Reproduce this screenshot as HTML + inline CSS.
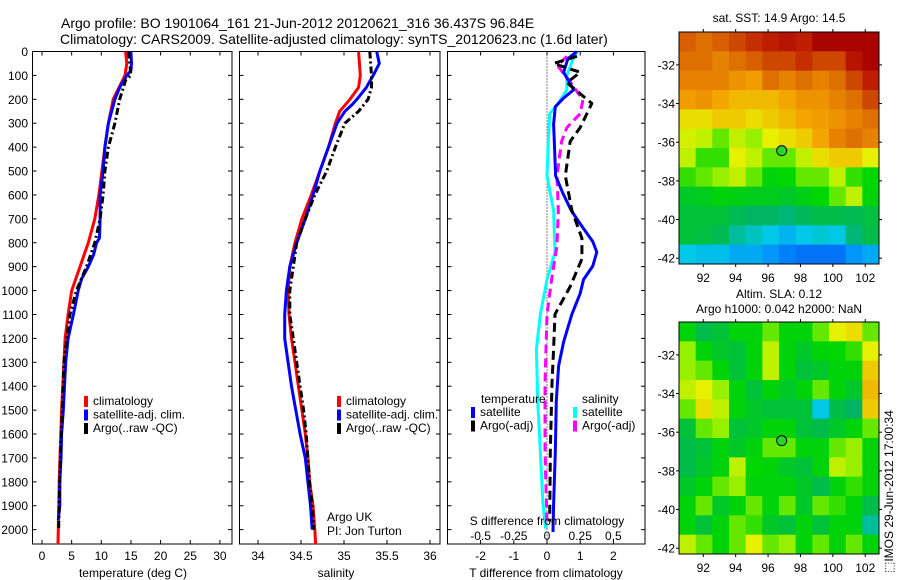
<!DOCTYPE html>
<html><head><meta charset="utf-8"><style>
html,body{margin:0;padding:0;background:#fff;}
svg{display:block;font-family:"Liberation Sans",Arial,sans-serif;}
text{fill:#000;}
</style></head><body>
<svg id="fig" width="900" height="580" viewBox="0 0 900 580" xmlns="http://www.w3.org/2000/svg">
<rect x="0" y="0" width="900" height="580" fill="#fff"/>
<text x="61" y="28" font-size="14">Argo profile: BO 1901064_161 21-Jun-2012 20120621_316 36.437S 96.84E</text>
<text x="60" y="44" font-size="14">Climatology: CARS2009. Satellite-adjusted climatology: synTS_20120623.nc (1.6d later)</text>
<g id="g1"></g>
<g id="g2"></g>
<g id="g3"></g>
<g id="m1"></g>
<g id="m2"></g>
<text x="0" y="0" font-size="12" transform="translate(893,573) rotate(-90)">⬚IMOS 29-Jun-2012 17:00:34</text>
</svg>
<script>
// ---- data ----
const tClimDepth=[0,50,100,200,300,400,500,600,700,800,900,1000,1100,1200,1500,1800,2000,2060];
const tClim=[14.1,14.3,14.0,12.0,11.2,10.6,10.1,9.6,8.9,7.8,6.4,5.0,4.4,3.9,3.3,2.9,2.75,2.7];
const tSatDepth=[0,50,80,100,150,200,300,400,500,600,700,780,800,850,900,950,1000,1100,1200,1300,1400,1500,1600,1700,1800,1900,1960];
const tSat=[15.0,15.1,15.0,14.3,13.1,12.3,11.2,10.6,10.3,9.8,9.8,9.7,9.2,8.7,7.8,6.7,6.1,5.3,4.4,4.0,3.8,3.6,3.3,3.2,3.0,3.0,2.75];
const tArgoDepth=[0,100,120,200,300,400,500,600,700,800,900,1000,1100,1200,1300,1500,1700,1900,2000];
const tArgo=[14.6,15.0,14.1,13.1,12.3,11.2,10.6,10.3,9.8,8.9,7.5,5.8,4.7,4.2,3.7,3.4,3.1,2.9,2.8];
const sClimDepth=[0,100,150,200,250,300,400,500,600,700,800,900,1000,1100,1200,1300,1400,1500,1600,1700,1800,1900,2000,2060];
const sClim=[35.17,35.19,35.17,35.07,34.95,34.9,34.82,34.72,34.62,34.51,34.43,34.37,34.35,34.36,34.39,34.43,34.47,34.51,34.55,34.58,34.6,34.64,34.66,34.67];
const sSatDepth=[0,50,100,150,200,220,250,300,400,500,600,700,800,900,1000,1100,1200,1300,1400,1500,1600,1700,1800,1900,2000];
const sSat=[35.38,35.41,35.34,35.26,35.15,35.1,35.01,34.92,34.82,34.72,34.64,34.55,34.45,34.37,34.33,34.31,34.31,34.35,34.39,34.44,34.49,34.55,34.58,34.61,34.63];
const sArgoDepth=[0,100,150,200,250,300,400,500,600,700,800,900,1000,1100,1200,1300,1400,1500,1600,1700,1800,1900,2000];
const sArgo=[35.30,35.32,35.32,35.28,35.17,35.01,34.9,34.8,34.66,34.55,34.45,34.41,34.37,34.37,34.41,34.45,34.49,34.53,34.56,34.58,34.6,34.63,34.65];
const dTSatDepth=[0,30,87,160,195,231,304,376,520,593,665,737,795,839,897,954,1012,1099,1215,1316,1460,1677,1894,2010];
const dTSat=[0.9,0.63,0.5,0.8,0.5,0.25,0.2,0.22,0.26,0.48,0.73,1.08,1.38,1.5,1.38,1.1,1.0,0.75,0.5,0.35,0.28,0.25,0.2,0.18];
const dTArgoDepth=[20,50,87,130,217,275,318,376,520,665,781,868,983,1099,1244,1388,1677,1966];
const dTArgo=[0.9,0.2,1.0,0.6,1.35,1.15,1.0,0.7,0.55,0.75,1.05,1.05,0.7,0.24,0.2,0.15,0.1,0.08];
const dSSatDepth=[0,40,100,160,217,260,376,520,665,839,954,1099,1244,1460,1677,1894,1995];
const dSSat=[0.225,0.19,0.15,0.15,0.085,0.02,0.01,0.0,0.05,0.06,0.0,-0.05,-0.08,-0.07,-0.05,-0.03,-0.01];
const dSArgoDepth=[20,60,116,202,260,318,376,520,665,810,954,1099,1388,1677,1966];
const dSArgo=[0.15,0.08,0.16,0.27,0.25,0.15,0.11,0.075,0.085,0.075,0.035,0.0,-0.015,-0.015,0.0];
const depthTicks=[0,100,200,300,400,500,600,700,800,900,1000,1100,1200,1300,1400,1500,1600,1700,1800,1900,2000];
const tTicks=[0,5,10,15,20,25,30];
const sTicks=[34,34.5,35,35.5,36];
const sTickLabels=['34','34.5','35','35.5','36'];
const dTTicks=[-2,-1,0,1,2];
const dSTicks=[-0.5,-0.25,0,0.25,0.5];
const lonTicks=[92,94,96,98,100,102];
const latTicks=[-32,-34,-36,-38,-40,-42];
const argoLon=96.84, argoLat=-36.437;
const sstGrid=[
[0.82,0.8,0.82,0.85,0.88,0.9,0.92,0.9,0.95,0.95,0.95,0.95],
[0.8,0.8,0.78,0.8,0.82,0.85,0.85,0.88,0.85,0.85,0.92,0.95],
[0.78,0.78,0.78,0.76,0.75,0.8,0.78,0.8,0.78,0.8,0.85,0.9],
[0.75,0.76,0.74,0.72,0.72,0.72,0.74,0.76,0.76,0.78,0.8,0.85],
[0.68,0.68,0.7,0.7,0.68,0.7,0.72,0.74,0.75,0.76,0.78,0.8],
[0.65,0.64,0.6,0.64,0.62,0.66,0.68,0.7,0.74,0.78,0.8,0.78],
[0.64,0.58,0.58,0.66,0.64,0.6,0.6,0.64,0.68,0.7,0.7,0.66],
[0.58,0.6,0.62,0.64,0.6,0.55,0.56,0.6,0.6,0.64,0.58,0.56],
[0.52,0.53,0.55,0.54,0.53,0.53,0.52,0.54,0.56,0.6,0.64,0.55],
[0.5,0.5,0.5,0.47,0.45,0.45,0.44,0.46,0.48,0.48,0.47,0.49],
[0.5,0.49,0.47,0.42,0.4,0.38,0.36,0.38,0.39,0.38,0.44,0.48],
[0.38,0.37,0.37,0.35,0.35,0.33,0.31,0.3,0.3,0.3,0.33,0.35]];
const slaGrid=[
[0.55,0.48,0.5,0.55,0.55,0.6,0.55,0.55,0.6,0.66,0.68,0.6],
[0.62,0.55,0.52,0.5,0.55,0.64,0.55,0.52,0.55,0.56,0.58,0.66],
[0.62,0.6,0.55,0.5,0.55,0.64,0.55,0.5,0.52,0.55,0.55,0.7],
[0.64,0.66,0.62,0.55,0.5,0.55,0.52,0.55,0.6,0.55,0.52,0.72],
[0.6,0.68,0.64,0.55,0.52,0.5,0.5,0.5,0.38,0.48,0.45,0.7],
[0.5,0.6,0.62,0.5,0.52,0.55,0.55,0.5,0.48,0.52,0.55,0.6],
[0.48,0.5,0.55,0.52,0.55,0.6,0.6,0.55,0.55,0.6,0.62,0.55],
[0.48,0.52,0.55,0.64,0.56,0.55,0.52,0.5,0.55,0.64,0.62,0.55],
[0.52,0.55,0.6,0.62,0.55,0.55,0.55,0.52,0.48,0.55,0.58,0.55],
[0.55,0.6,0.52,0.55,0.6,0.55,0.6,0.52,0.6,0.58,0.55,0.48],
[0.55,0.5,0.55,0.6,0.58,0.52,0.5,0.55,0.5,0.55,0.55,0.42],
[0.64,0.6,0.55,0.6,0.66,0.6,0.62,0.55,0.6,0.55,0.6,0.55]];

// ---- helpers ----
const NS='http://www.w3.org/2000/svg';
function mk(parent,tag,attrs,txt){const e=document.createElementNS(NS,tag);for(const k in attrs)e.setAttribute(k,attrs[k]);if(txt!==undefined)e.textContent=txt;parent.appendChild(e);return e;}
const TOP=51.5, BOT=544, DMAX=2060;
const yD=d=>TOP+d/DMAX*(BOT-TOP);
const panels=[{g:'g1',x0:32.5,x1:232},{g:'g2',x0:239.5,x1:440},{g:'g3',x0:447.5,x1:645}];
const xT=v=>42+5.93*v;
const xS=v=>258+86*(v-34);
const xdT=v=>547+33.2*v;
const xdS=v=>547+132.8*v;

panels.forEach((p,i)=>{
  const g=document.getElementById(p.g);
  const box=mk(g,'rect',{x:p.x0,y:TOP,width:p.x1-p.x0,height:BOT-TOP,fill:'none',stroke:'#000','stroke-width':1});
  
  
  depthTicks.forEach(d=>{
    const y=yD(d);
    const t1=mk(g,'line',{x1:p.x0,x2:p.x0+4,y1:y,y2:y,stroke:'#000'});
    
    
    const t2=mk(g,'line',{x1:p.x1-4,x2:p.x1,y1:y,y2:y,stroke:'#000'});
    
    
    if(i===0){
      const lb=mk(g,'text',{x:28,y:y+4.5,'font-size':12,'text-anchor':'end'},String(d));
      
      
    }
  });
});
function xticks(g,vals,labels,fx,x0,x1){
  vals.forEach((v,k)=>{
    const x=fx(v);
    const a=mk(g,'line',{x1:x,x2:x,y1:BOT,y2:BOT-4,stroke:'#000'});
    
    
    const b=mk(g,'line',{x1:x,x2:x,y1:TOP,y2:TOP+4,stroke:'#000'});
    
    
    const t=mk(g,'text',{x:x,y:560,'font-size':12,'text-anchor':'middle'},labels[k]);
    
    
  });
}
function line(g,xs,ds,fx,color,dash,name){
  const pts=xs.map((v,k)=>fx(v).toFixed(1)+','+yD(ds[k]).toFixed(1)).join(' ');
  const a={points:pts,fill:'none',stroke:color,'stroke-width':3,'stroke-linejoin':'round'};
  if(dash)a['stroke-dasharray']=dash;
  const e=mk(g,'polyline',a);
  
  
}
function legend(g,x,y,items){
  items.forEach((it,k)=>{
    const r=mk(g,'rect',{x:x,y:y+k*13.5-9,width:4,height:11,fill:it[0]});
    
    
    const t=mk(g,'text',{x:x+9,y:y+k*13.5,'font-size':12},it[1]);
    
    
  });
}
function label(g,x,y,txt,name,anchor){
  const t=mk(g,'text',{x:x,y:y,'font-size':12,'text-anchor':anchor||'start'},txt);
  
  
}
// panel 1
const g1=document.getElementById('g1');
xticks(g1,tTicks,tTicks.map(String),xT);
line(g1,tClim,tClimDepth,xT,'#f00',null,'temperature-climatology-line');
line(g1,tSat,tSatDepth,xT,'#00f',null,'temperature-satellite-line');
line(g1,tArgo,tArgoDepth,xT,'#000','7,3,2,3','temperature-argo-line');
legend(g1,84,405,[['#f00','climatology'],['#00f','satellite-adj. clim.'],['#000','Argo(..raw -QC)']]);
label(g1,133,577,'temperature (deg C)','x-axis-title','middle');
// panel 2
const g2=document.getElementById('g2');
xticks(g2,sTicks,sTickLabels,xS);
line(g2,sClim,sClimDepth,xS,'#f00',null,'salinity-climatology-line');
line(g2,sSat,sSatDepth,xS,'#00f',null,'salinity-satellite-line');
line(g2,sArgo,sArgoDepth,xS,'#000','7,3,2,3','salinity-argo-line');
legend(g2,337,405,[['#f00','climatology'],['#00f','satellite-adj. clim.'],['#000','Argo(..raw -QC)']]);
label(g2,327,521,'Argo UK','float-owner');
label(g2,327,535,'PI: Jon Turton','float-pi');
label(g2,336,577,'salinity','x-axis-title','middle');
// panel 3
const g3=document.getElementById('g3');
xticks(g3,dTTicks,dTTicks.map(String),xdT);
const zl=mk(g3,'line',{x1:xdT(0),x2:xdT(0),y1:TOP,y2:BOT,stroke:'#000','stroke-dasharray':'1,2'});


line(g3,dSSat,dSSatDepth,xdS,'#0ff',null,'salinity-satellite-diff-line');
line(g3,dSArgo,dSArgoDepth,xdS,'#f0f','9,5','salinity-argo-diff-line');
line(g3,dTSat,dTSatDepth,xdT,'#00f',null,'temperature-satellite-diff-line');
line(g3,dTArgo,dTArgoDepth,xdT,'#000','9,5','temperature-argo-diff-line');
label(g3,481,403,'temperature','legend-title-temperature');
label(g3,582,403,'salinity','legend-title-salinity');
legend(g3,471,416,[['#00f','satellite'],['#000','Argo(-adj)']]);
legend(g3,573,416,[['#0ff','satellite'],['#f0f','Argo(-adj)']]);
label(g3,547,525,'S difference from climatology','s-axis-title','middle');
dSTicks.forEach(v=>label(g3,xdS(v),540,String(v),'s-tick-label','middle'));
label(g3,546,577,'T difference from climatology','x-axis-title','middle');

// ---- maps ----
function color(v){
  const st=[[0.28,0,90,240],[0.32,0,140,255],[0.38,0,200,230],[0.45,0,180,100],[0.52,0,200,40],[0.56,0,215,0],[0.62,150,240,0],[0.66,230,240,0],[0.74,245,165,0],[0.82,215,95,0],[0.9,190,30,0],[0.96,165,0,0]];
  if(v<=st[0][0])return `rgb(${st[0][1]},${st[0][2]},${st[0][3]})`;
  for(let i=1;i<st.length;i++){if(v<=st[i][0]){const a=st[i-1],b=st[i],f=(v-a[0])/(b[0]-a[0]);return `rgb(${Math.round(a[1]+f*(b[1]-a[1]))},${Math.round(a[2]+f*(b[2]-a[2]))},${Math.round(a[3]+f*(b[3]-a[3]))})`;}}
  const l=st[st.length-1];return `rgb(${l[1]},${l[2]},${l[3]})`;
}
function map(id,top,grid,t1,t2){
  const g=document.getElementById(id);
  const L=679,R=879,B=top+232;
  const LON0=90.5,LON1=102.85,LAT0=-30.3,LAT1=-42.3;
  const xL=v=>L+(v-LON0)/(LON1-LON0)*(R-L);
  const yL=v=>top+(v-LAT0)/(LAT1-LAT0)*(B-top);
  const nr=grid.length,nc=grid[0].length;
  grid.forEach((row,r)=>row.forEach((v,c)=>{
    const lo=LON0+(LON1-LON0)*c/nc, la=LAT0+(LAT1-LAT0)*r/nr;
    const x=xL(lo),y=yL(la);
    const cell=mk(g,'rect',{x:x.toFixed(2),y:y.toFixed(2),width:((R-L)/nc+0.5).toFixed(2),height:((B-top)/nr+0.5).toFixed(2),fill:color(v)});
    
    
  }));
  const fr=mk(g,'rect',{x:L,y:top,width:R-L,height:B-top,fill:'none',stroke:'#000'});
  
  
  lonTicks.forEach(v=>{
    const x=xL(v);
    const a=mk(g,'line',{x1:x,x2:x,y1:B,y2:B+3,stroke:'#000'});
    
    
    const b=mk(g,'line',{x1:x,x2:x,y1:top,y2:top-3,stroke:'#000'});
    
    
    label(g,x,B+18,String(v),'lon-tick-label','middle');
  });
  latTicks.forEach(v=>{
    const y=yL(v);
    const a=mk(g,'line',{x1:L,x2:L-3,y1:y,y2:y,stroke:'#000'});
    
    
    const b=mk(g,'line',{x1:R,x2:R+3,y1:y,y2:y,stroke:'#000'});
    
    
    label(g,L-4,y+4.5,String(v),'lat-tick-label','end');
  });
  const c=mk(g,'circle',{cx:xL(argoLon),cy:yL(argoLat),r:5,fill:'#2ad52a',stroke:'#000','stroke-width':1});
  
  
  if(t2){label(g,(L+R)/2,top-24,t1,'map-title','middle');label(g,(L+R)/2,top-9,t2,'map-subtitle','middle');}
  else label(g,(L+R)/2,top-10,t1,'map-title','middle');
}
map('m1',32,sstGrid,'sat. SST: 14.9 Argo: 14.5');
map('m2',322,slaGrid,'Altim. SLA: 0.12','Argo h1000: 0.042 h2000: NaN');
</script>
</body></html>
